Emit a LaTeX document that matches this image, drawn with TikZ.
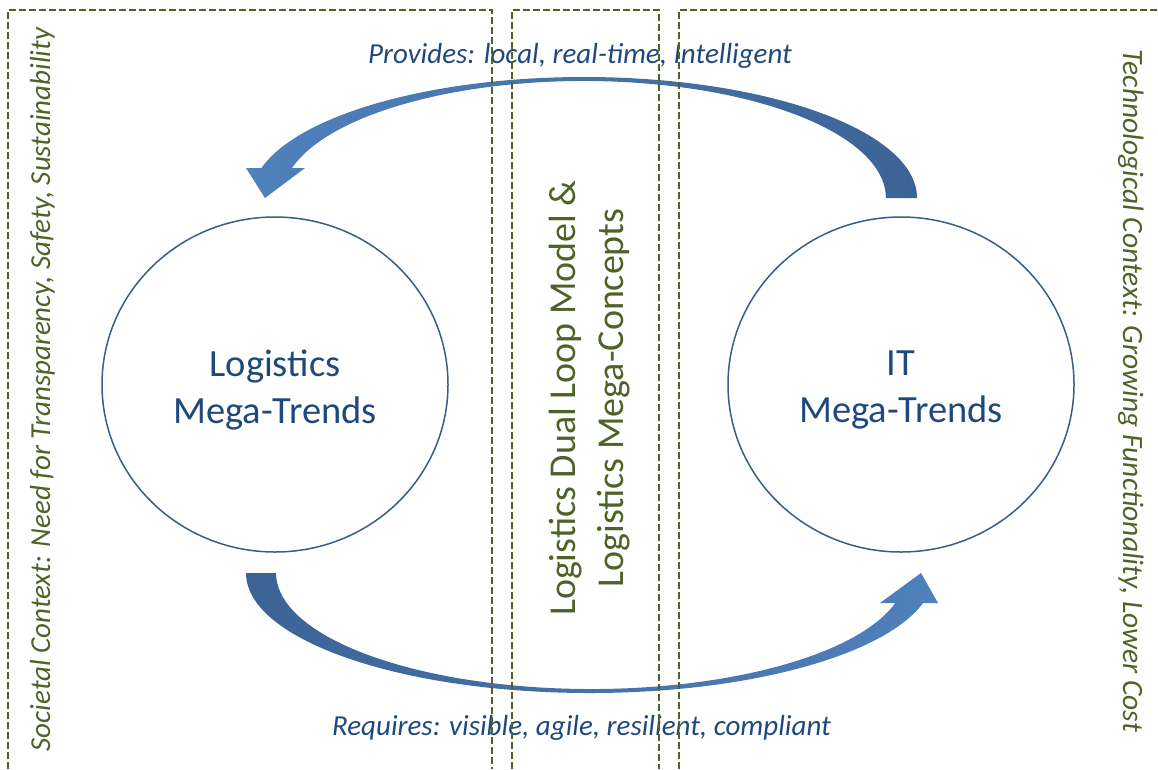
\documentclass[tikz,border=0pt]{standalone}
\usepackage{fontspec}
\setmainfont{Carlito}
\usetikzlibrary{shapes.geometric}
\definecolor{trendblue}{RGB}{31,73,125}
\definecolor{ringblue}{RGB}{56,93,138}
\definecolor{ctxgreen}{RGB}{79,98,40}
\definecolor{arrowlight}{RGB}{79,129,189}
\definecolor{arrowdark}{RGB}{60,99,150}
\begin{document}
\begin{tikzpicture}[x=1pt,y=-1pt,
    trend/.style={ellipse,draw=ringblue,line width=1.5pt,fill=white,
        minimum width=346pt,minimum height=335pt},
    trendtext/.style={align=center,text=trendblue,font=\fontsize{38.5}{47}\selectfont},
    flowtext/.style={anchor=base,text=trendblue,font=\fontsize{29}{35}\selectfont\itshape},
    ctxtext/.style={anchor=base,text=ctxgreen,font=\fontsize{29}{35}\selectfont\itshape},
    ctxframe/.style={draw=ctxgreen,line width=1.3pt,dash pattern=on 7pt off 3pt}]
    \useasboundingbox (0,0) rectangle (1158,769);

    \node[trend] (M_L) at (275,384.5) {};
    \node[trend] (M_I) at (901,384.5) {};
    \node[trendtext] (T_L) at (275,389.5) {Logistics\\Mega-Trends};
    \node[trendtext] (T_I) at (901,390) {IT\\Mega-Trends};

    \shade[left color=arrowlight,right color=arrowdark]
        (917,198) arc[start angle=0,end angle=-165.65,x radius=333,y radius=121]
        -- (246,168) -- (265,198) -- (305,168) -- (292,168)
        arc[start angle=-165.14,end angle=0,x radius=302,y radius=117] -- cycle;
    \shade[left color=arrowdark,right color=arrowlight]
        (246,573) arc[start angle=180,end angle=14.48,x radius=344,y radius=120]
        -- (938,603) -- (921,573) -- (880,603) -- (895.3,603)
        arc[start angle=14.99,end angle=180,x radius=315,y radius=116] -- cycle;

    \node[flowtext] (F_top) at (580,63) {Provides: local, real-time, Intelligent};
    \node[flowtext] (F_bot) at (581.5,735) {Requires: visible, agile, resilient, compliant};

    \node[ctxtext,rotate=90] (C_soc) at (50,389.5)
        {Societal Context: Need for Transparency, Safety, Sustainability};
    \node[ctxtext,rotate=-90,font=\fontsize{29.5}{35}\selectfont\itshape] (C_tech) at (1123,391)
        {Technological Context: Growing Functionality, Lower Cost};
    \node[rotate=90,align=center,text=ctxgreen,font=\fontsize{38}{48}\selectfont] (D_mid)
        at (590,398) {Logistics Dual Loop Model \&\\Logistics Mega-Concepts};

    \draw[ctxframe] (8,769) -- (8,10) -- (492,10) -- (492,769);
    \draw[ctxframe] (512,769) -- (512,10) -- (659,10) -- (659,769);
    \draw[ctxframe] (679,769) -- (679,10) -- (1158,10);
\end{tikzpicture}
\end{document}
